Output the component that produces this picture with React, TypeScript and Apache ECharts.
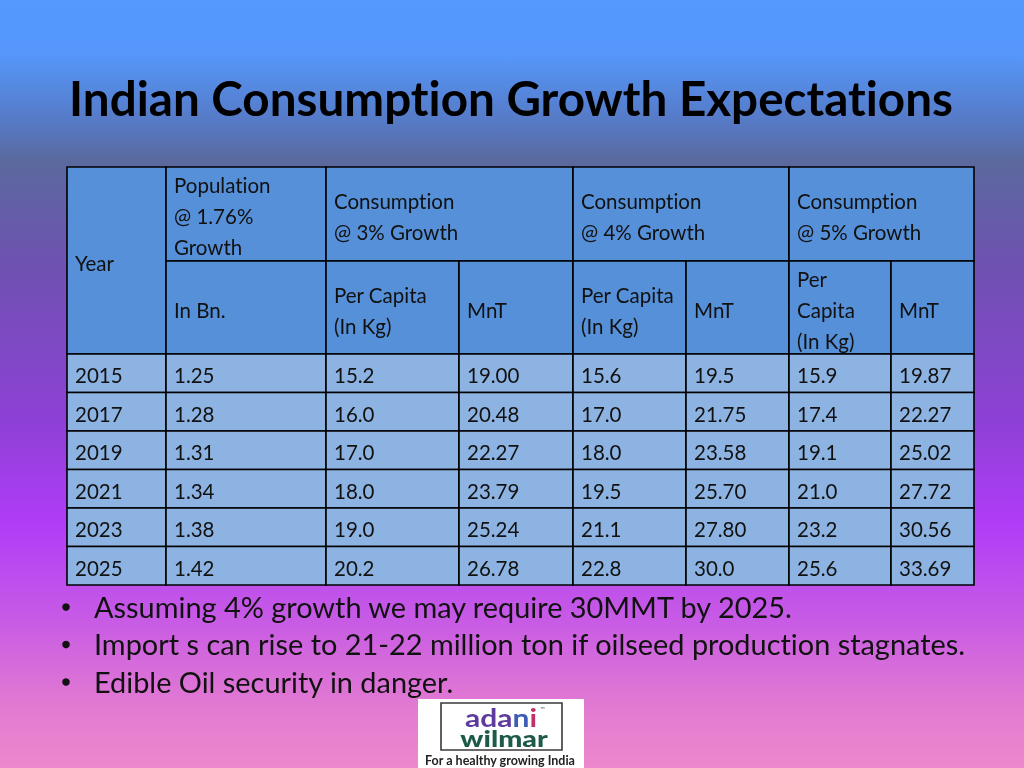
import React, { useEffect, useRef } from "react";
import * as echarts from "echarts";

const title = "Indian Consumption Growth Expectations";
const years = ["2015", "2017", "2019", "2021", "2023", "2025"];
const populationBn = ["1.25", "1.28", "1.31", "1.34", "1.38", "1.42"];
const perCapita3 = ["15.2", "16.0", "17.0", "18.0", "19.0", "20.2"];
const mnt3 = ["19.00", "20.48", "22.27", "23.79", "25.24", "26.78"];
const perCapita4 = ["15.6", "17.0", "18.0", "19.5", "21.1", "22.8"];
const mnt4 = ["19.5", "21.75", "23.58", "25.70", "27.80", "30.0"];
const perCapita5 = ["15.9", "17.4", "19.1", "21.0", "23.2", "25.6"];
const mnt5 = ["19.87", "22.27", "25.02", "27.72", "30.56", "33.69"];
const bullets = [
  "Assuming 4% growth we may require 30MMT by 2025.",
  "Import s can rise to 21-22 million ton if oilseed production stagnates.",
  "Edible Oil security in danger.",
];

const FONT = "Lato, 'Open Sans', sans-serif";

export default function App() {
  const ref = useRef<HTMLDivElement>(null);
  useEffect(() => {
    if (!ref.current) return;
    const chart = echarts.init(ref.current, undefined, { renderer: "svg" });
    const colX = [67, 166, 326, 459, 573, 686, 789, 891, 974];
    const hTop = 167, hMid = 261, hBot = 354, rowH = 38.5;
    const headFill = "#5590d8";
    const dataFill = "#8db3e2";
    const g: any[] = [];
    g.push({
      type: "rect",
      shape: { x: 0, y: 0, width: 1024, height: 768 },
      style: {
        fill: new echarts.graphic.LinearGradient(0, 0, 0, 1, [
          { offset: 0, color: "#5598fe" },
          { offset: 0.07, color: "#5597fb" },
          { offset: 0.16, color: "#5679c4" },
          { offset: 0.21, color: "#5b699e" },
          { offset: 0.35, color: "#6f51b2" },
          { offset: 0.55, color: "#8e40d6" },
          { offset: 0.68, color: "#b03cf8" },
          { offset: 0.8, color: "#c659e6" },
          { offset: 0.92, color: "#e27ad2" },
          { offset: 1, color: "#ee88cc" },
        ]),
      },
      silent: true,
    });
    g.push({
      type: "text",
      x: 511,
      y: 97,
      style: {
        text: title,
        fontFamily: FONT,
        fontWeight: "bold",
        fontSize: 47.6,
        fill: "#000",
        align: "center",
        verticalAlign: "middle",
      },
    });
    const cell = (x0: number, x1: number, y0: number, y1: number, fill: string) => {
      g.push({
        type: "rect",
        shape: { x: x0, y: y0, width: x1 - x0, height: y1 - y0 },
        style: { fill, stroke: "#000", lineWidth: 1.6 },
      });
    };
    const txt = (x: number, y: number, lines: string[], lh = 31) => {
      const n = lines.length;
      lines.forEach((l, i) => {
        g.push({
          type: "text",
          x,
          y: y + (i - (n - 1) / 2) * lh,
          style: {
            text: l,
            fontFamily: FONT,
            fontSize: 20.5,
            fill: "#111",
            align: "left",
            verticalAlign: "middle",
          },
        });
      });
    };
    cell(colX[0], colX[1], hTop, hBot, headFill);
    cell(colX[1], colX[2], hTop, hMid, headFill);
    cell(colX[2], colX[4], hTop, hMid, headFill);
    cell(colX[4], colX[6], hTop, hMid, headFill);
    cell(colX[6], colX[8], hTop, hMid, headFill);
    for (let c = 1; c < 8; c++) cell(colX[c], colX[c + 1], hMid, hBot, headFill);
    const pad = 8;
    txt(colX[0] + pad, 263, ["Year"]);
    txt(colX[1] + pad, 216, ["Population", "@ 1.76%", "Growth"]);
    txt(colX[2] + pad, 216.5, ["Consumption", "@ 3% Growth"]);
    txt(colX[4] + pad, 216.5, ["Consumption", "@ 4% Growth"]);
    txt(colX[6] + pad, 216.5, ["Consumption", "@ 5% Growth"]);
    const subY = 310;
    txt(colX[1] + pad, subY, ["In Bn."]);
    txt(colX[2] + pad, subY, ["Per Capita", "(In Kg)"]);
    txt(colX[3] + pad, subY, ["MnT"]);
    txt(colX[4] + pad, subY, ["Per Capita", "(In Kg)"]);
    txt(colX[5] + pad, subY, ["MnT"]);
    txt(colX[6] + pad, subY, ["Per", "Capita", "(In Kg)"]);
    txt(colX[7] + pad, subY, ["MnT"]);
    const cols = [years, populationBn, perCapita3, mnt3, perCapita4, mnt4, perCapita5, mnt5];
    years.forEach((_, r) => {
      const y0 = hBot + r * rowH;
      const y1 = y0 + rowH;
      cols.forEach((col, c) => {
        cell(colX[c], colX[c + 1], y0, y1, dataFill);
        txt(colX[c] + pad, (y0 + y1) / 2 + 2, [col[r]]);
      });
    });
    bullets.forEach((b, i) => {
      const y = 606 + i * 37.5;
      g.push({
        type: "circle",
        shape: { cx: 66, cy: y + 1, r: 3.8 },
        style: { fill: "#111" },
      });
      g.push({
        type: "text",
        x: 94,
        y,
        style: {
          text: b,
          fontFamily: FONT,
          fontSize: 28.9,
          fill: "#111",
          align: "left",
          verticalAlign: "middle",
        },
      });
    });
    // logo
    g.push({
      type: "rect",
      shape: { x: 418, y: 699, width: 166, height: 69 },
      style: { fill: "#ffffff" },
    });
    g.push({
      type: "rect",
      shape: { x: 441, y: 703, width: 121, height: 47 },
      style: { fill: "#ffffff", stroke: "#3a3a3a", lineWidth: 1.6 },
    });
    g.push({
      type: "text",
      x: 501,
      y: 718,
      scaleX: 1.25,
      style: {
        text: "{p|ada}{b|n}{r|i}",
        fontFamily: FONT,
        fontSize: 24,
        lineHeight: 18,
        align: "center",
        verticalAlign: "middle",
        rich: {
          p: { fill: "#5e3a9e", fontFamily: FONT, fontSize: 24, lineHeight: 18, fontWeight: "bold" },
          b: { fill: "#3e5cb6", fontFamily: FONT, fontSize: 24, lineHeight: 18, fontWeight: "bold" },
          r: { fill: "#c2306c", fontFamily: FONT, fontSize: 24, lineHeight: 18, fontWeight: "bold" },
        },
      },
    });
    g.push({
      type: "text",
      x: 540,
      y: 708,
      style: { text: "™", fontFamily: FONT, fontSize: 6, lineHeight: 6, fill: "#555", align: "left", verticalAlign: "middle" },
    });
    g.push({
      type: "text",
      x: 504,
      y: 738,
      scaleX: 1.3,
      style: {
        text: "wilmar",
        fontFamily: FONT,
        fontSize: 22,
        lineHeight: 17,
        fontWeight: "900",
        fill: "#1d5a48",
        align: "center",
        verticalAlign: "middle",
      },
    });
    g.push({
      type: "text",
      x: 500,
      y: 760,
      style: {
        text: "For a healthy growing India",
        fontFamily: FONT,
        fontSize: 12.5,
        lineHeight: 13,
        fontWeight: "bold",
        fill: "#222",
        align: "center",
        verticalAlign: "middle",
      },
    });
    chart.setOption({ animation: false, graphic: { elements: g } });
    return () => chart.dispose();
  }, []);
  return (
    <>
      <style>{"#slide text{font-variant-ligatures:none !important;font-feature-settings:'liga' 0,'clig' 0 !important;}"}</style>
      <div
        id="slide"
        ref={ref}
        style={{ position: "fixed", left: 0, top: 0, width: 1024, height: 768 }}
      />
    </>
  );
}
